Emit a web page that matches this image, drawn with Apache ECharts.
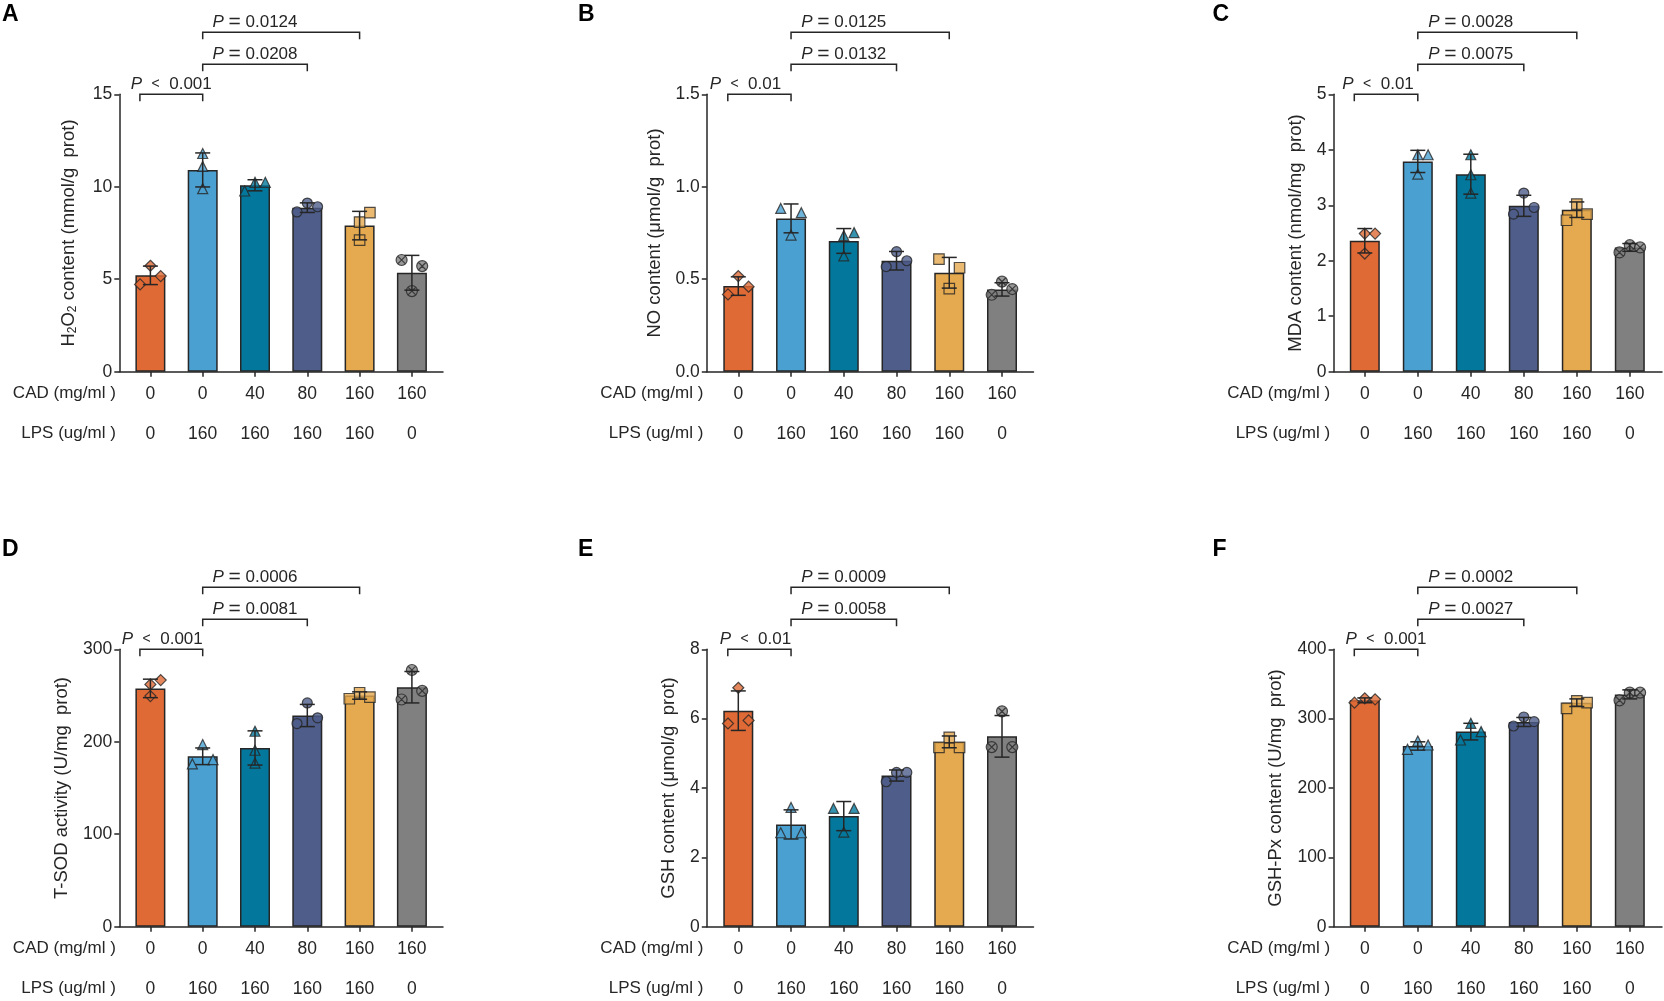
<!DOCTYPE html>
<html>
<head>
<meta charset="utf-8">
<title>Oxidative stress markers</title>
<script src="https://cdn.jsdelivr.net/npm/echarts@6/dist/echarts.min.js"></script>
<style>
  html, body { margin: 0; padding: 0; background: #fff; }
  #chart { width: 1664px; height: 1001px; }
</style>
</head>
<body>
<div id="chart"></div>
<script>
// group labels under each bar
const cadLabels = ['0', '0', '40', '80', '160', '160'];
const lpsLabels = ['0', '160', '160', '160', '160', '0'];
const comparisons = [[0, 1], [1, 3], [1, 4]];

// A - H2O2
const meansA = [5.21, 10.91, 10.08, 8.87, 7.90, 5.35];
const sdA = [0.50, 0.92, 0.30, 0.26, 0.77, 0.94];
const pointsA = [[4.72, 5.73, 5.17], [11.8, 11.1, 9.9], [9.77, 10.24, 10.24], [8.64, 9.12, 8.92], [8.09, 7.12, 8.6], [6.04, 4.36, 5.71]];
const pA = ['< 0.001', '= 0.0208', '= 0.0124'];

// B - NO
const meansB = [0.463, 0.829, 0.707, 0.600, 0.535, 0.445];
const sdB = [0.050, 0.078, 0.067, 0.050, 0.083, 0.036];
const pointsB = [[0.418, 0.517, 0.46], [0.883, 0.739, 0.86], [0.736, 0.626, 0.752], [0.568, 0.649, 0.60], [0.609, 0.449, 0.562], [0.416, 0.487, 0.447]];
const pB = ['< 0.01', '= 0.0132', '= 0.0125'];

// C - MDA
const meansC = [2.36, 3.79, 3.56, 2.99, 2.92, 2.24];
const sdC = [0.22, 0.20, 0.36, 0.19, 0.14, 0.07];
const pointsC = [[2.49, 2.49, 2.13], [3.91, 3.91, 3.56], [3.91, 3.55, 3.22], [3.22, 2.96, 2.84], [3.02, 2.73, 2.84], [2.15, 2.28, 2.24]];
const pC = ['< 0.01', '= 0.0075', '= 0.0028'];

// D - T-SOD
const meansD = [257.7, 184.3, 193.3, 228.4, 250.0, 259.0];
const sdD = [10, 9, 18.5, 12, 4, 17];
const pointsD = [[262, 266.7, 249.4], [197, 176, 180.7], [211.4, 190.8, 177], [242, 225.9, 219.7], [253, 246.5, 248.3], [277.6, 255, 245.7]];
const pD = ['< 0.001', '= 0.0081', '= 0.0006'];

// E - GSH
const meansE = [6.23, 2.95, 3.19, 4.36, 5.33, 5.49];
const sdE = [0.57, 0.42, 0.42, 0.16, 0.17, 0.60];
const pointsE = [[6.89, 5.95, 5.86], [3.44, 2.71, 2.71], [3.41, 3.41, 2.73], [4.45, 4.45, 4.18], [5.46, 5.17, 5.17], [6.21, 5.18, 5.18]];
const pE = ['< 0.01', '= 0.0058', '= 0.0009'];

// F - GSH-Px
const meansF = [326.4, 260.6, 281.3, 295.2, 323.0, 335.0];
const sdF = [3.5, 6, 12, 6.5, 5.5, 6.5];
const pointsF = [[323, 329.3, 327.9], [255.8, 267.8, 262], [293.3, 269.2, 281.3], [302.4, 289.4, 295.7], [325.5, 314.9, 323], [326.4, 337.5, 337.5]];
const pF = ['< 0.001', '= 0.0027', '= 0.0002'];

// horizontal placement of each dot inside its bar (-1 left, 0 centre, 1 right)
const jitterA = [[-1, 0, 1], [0, 0, 0], [-1, 0, 1], [-1, 0, 1], [0, 0, 1], [-1, 0, 1]];
const jitterB = [[-1, 0, 1], [-1, 0, 1], [0, 0, 1], [-1, 0, 1], [-1, 0, 1], [-1, 0, 1]];
const jitterC = [[0, 1, 0], [0, 1, 0], [0, 0, 0], [0, 1, -1], [0, -1, 1], [-1, 0, 1]];
const jitterD = [[0, 1, 0], [0, -1, 1], [0, 0, 0], [0, 1, -1], [0, -1, 1], [0, 1, -1]];
const jitterE = [[0, 1, -1], [0, -1, 1], [-1, 1, 0], [0, 1, -1], [0, -1, 1], [0, -1, 1]];
const jitterF = [[-1, 0, 1], [-1, 0, 1], [0, -1, 1], [0, -1, 1], [0, -1, 1], [-1, 0, 1]];

const groupColors = ['#E06A36', '#4AA0D1', '#04789C', '#4E5D89', '#E5A94F', '#808080'];
const crossCircle = 'path://M2,12A10,10 0 1,0 22,12A10,10 0 1,0 2,12Z M5,5L19,19M19,5L5,19';
const groupSymbols = ['diamond', 'triangle', 'triangle', 'circle', 'rect', crossCircle];
const groupSymbolSizes = [11, 10, 10, 10, 10.5, 11];

const ink = '#262626';
const textFont = 'Liberation Sans, Arial, sans-serif';

// layout (pixels)
const columns = [
    { axisX: 119.3, axisEnd: 443, firstX: 150.4, band: 52.3, letterX: 2 },
    { axisX: 706.8, axisEnd: 1033.5, firstX: 738.3, band: 52.74, letterX: 578 },
    { axisX: 1333.6, axisEnd: 1662, firstX: 1364.8, band: 53, letterX: 1212.5 }
];
const rowTop = [94.3, 649.3];
const letterTop = [3.5, 538.5];
const plotHeight = 277.4;
const bracketLift = [0, 30, 62];
const labelSpans = [[0, 1], [1, 3], [1, 3]];
const firstLabelShift = [0, -14, -8, -9, -4, 0];

const panels = [
    { letter: 'A', name: 'H{sub|2}O{sub|2} content (mmol/g  prot)', nameGap: 41, max: 15, interval: 5, digits: 0, means: meansA, sd: sdA, points: pointsA, jitter: jitterA, p: pA },
    { letter: 'B', name: 'NO content (μmol/g  prot)', nameGap: 42, max: 1.5, interval: 0.5, digits: 1, means: meansB, sd: sdB, points: pointsB, jitter: jitterB, p: pB },
    { letter: 'C', name: 'MDA content (nmol/mg  prot)', nameGap: 28.5, max: 5, interval: 1, digits: 0, means: meansC, sd: sdC, points: pointsC, jitter: jitterC, p: pC },
    { letter: 'D', name: 'T-SOD activity (U/mg  prot)', nameGap: 47.5, max: 300, interval: 100, digits: 0, means: meansD, sd: sdD, points: pointsD, jitter: jitterD, p: pD },
    { letter: 'E', name: 'GSH content (μmol/g  prot)', nameGap: 28, max: 8, interval: 2, digits: 0, means: meansE, sd: sdE, points: pointsE, jitter: jitterE, p: pE },
    { letter: 'F', name: 'GSH-Px content (U/mg  prot)', nameGap: 48, max: 400, interval: 100, digits: 0, means: meansF, sd: sdF, points: pointsF, jitter: jitterF, p: pF }
];

const lineStyle = { color: ink, width: 1.5 };

function renderErrorBar(params, api) {
    const i = api.value(0), m = api.value(1), s = api.value(2);
    const hi = api.coord([i, m + s]);
    const lo = api.coord([i, m - s]);
    const half = 7.5;
    const style = { stroke: ink, lineWidth: 1.5, fill: null };
    return {
        type: 'group',
        children: [
            { type: 'line', shape: { x1: hi[0], y1: hi[1], x2: lo[0], y2: lo[1] }, style: style },
            { type: 'line', shape: { x1: hi[0] - half, y1: hi[1], x2: hi[0] + half, y2: hi[1] }, style: style },
            { type: 'line', shape: { x1: lo[0] - half, y1: lo[1], x2: lo[0] + half, y2: lo[1] }, style: style }
        ]
    };
}

function makeBracketRenderer(labels, yMax, shift0) {
    return function (params, api) {
        const a = api.value(0), b = api.value(1), lvl = api.value(2);
        const pa = api.coord([a, yMax]);
        const pb = api.coord([b, yMax]);
        const y = pa[1] - bracketLift[lvl];
        const x1 = pa[0] + (a === 0 ? -10.5 : 0);
        const x2 = pb[0];
        const span = labelSpans[lvl];
        let tx;
        if (lvl === 0) {
            tx = (x1 + x2) / 2 + shift0;
        } else {
            tx = (api.coord([span[0], yMax])[0] + api.coord([span[1], yMax])[0]) / 2;
        }
        const style = { stroke: ink, lineWidth: 1.5, fill: null };
        const raw = labels[params.dataIndex];
        const op = raw.charAt(0);
        const val = raw.slice(2);
        const text = op === '<' ? '{i|P}  {s|<}  ' + val : '{i|P} {e|=} ' + val;
        return {
            type: 'group',
            children: [
                { type: 'polyline', shape: { points: [[x1, y + 7], [x1, y], [x2, y], [x2, y + 7]] }, style: style },
                {
                    type: 'text',
                    style: {
                        text: text, x: tx, y: y - 10,
                        align: 'center', verticalAlign: 'middle',
                        fontFamily: textFont, fontSize: 17, fill: ink,
                        rich: {
                            i: { fontFamily: textFont, fontSize: 17, fontStyle: 'italic', fill: ink },
                            s: { fontFamily: textFont, fontSize: 14, fill: ink },
                            e: { fontFamily: textFont, fontSize: 21, fill: ink }
                        }
                    }
                }
            ]
        };
    };
}

const grid = [], xAxis = [], yAxis = [], series = [], title = [];

panels.forEach(function (p, k) {
    const col = columns[k % 3];
    const row = Math.floor(k / 3);
    const top = rowTop[row];

    title.push({ text: p.letter, left: col.letterX, top: letterTop[row], padding: 0,
        textStyle: { fontFamily: textFont, fontWeight: 'bold', fontSize: 23, lineHeight: 23, color: '#000' } });
    title.push({ text: 'CAD (mg/ml )', right: 1664 - (col.axisX - 3.5), top: top + 289, padding: 0,
        textStyle: { fontFamily: textFont, fontWeight: 'normal', fontSize: 17, lineHeight: 20, color: ink } });
    title.push({ text: 'LPS (ug/ml )', right: 1664 - (col.axisX - 3.5), top: top + 329, padding: 0,
        textStyle: { fontFamily: textFont, fontWeight: 'normal', fontSize: 17, lineHeight: 20, color: ink } });

    // frame grid: carries the axis lines
    const outer = grid.length;
    grid.push({ left: col.axisX, top: top, width: col.axisEnd - col.axisX, height: plotHeight, containLabel: false, outerBoundsMode: 'none' });
    // plot grid: carries the bars
    const inner = grid.length;
    grid.push({ left: col.firstX - col.band / 2, top: top, width: col.band * 6, height: plotHeight, containLabel: false, outerBoundsMode: 'none' });

    xAxis.push({ gridIndex: outer, type: 'value', min: 0, max: 1, position: 'bottom',
        axisLine: { show: true, onZero: false, lineStyle: lineStyle },
        axisTick: { show: false }, axisLabel: { show: false }, splitLine: { show: false } });
    yAxis.push({ gridIndex: outer, type: 'value', min: 0, max: p.max, interval: p.interval, position: 'left',
        axisLine: { show: true, onZero: false, lineStyle: lineStyle },
        axisTick: { show: true, inside: false, length: 5, lineStyle: lineStyle },
        axisLabel: { margin: 7, fontFamily: textFont, fontSize: 17.5, color: ink,
            formatter: function (v) { return v.toFixed(p.digits); } },
        splitLine: { show: false },
        name: p.name, nameLocation: 'middle', nameGap: p.nameGap, nameRotate: 90, nameMoveOverlap: false,
        nameTextStyle: { fontFamily: textFont, fontSize: 18.5, color: ink,
            rich: { sub: { fontFamily: textFont, fontSize: 12, color: ink, verticalAlign: 'bottom' } } } });

    const xi = xAxis.length;
    xAxis.push({ gridIndex: inner, type: 'category', data: cadLabels, position: 'bottom',
        axisLine: { show: false, onZero: false },
        axisTick: { show: true, alignWithLabel: true, length: 5, lineStyle: lineStyle },
        axisLabel: { interval: 0, margin: 13, fontFamily: textFont, fontSize: 17.5, color: ink },
        splitLine: { show: false } });
    xAxis.push({ gridIndex: inner, type: 'category', data: lpsLabels, position: 'bottom', offset: 40,
        axisLine: { show: false, onZero: false }, axisTick: { show: false },
        axisLabel: { interval: 0, margin: 13, fontFamily: textFont, fontSize: 17.5, color: ink },
        splitLine: { show: false } });
    const yi = yAxis.length;
    yAxis.push({ gridIndex: inner, type: 'value', min: 0, max: p.max, show: false, splitLine: { show: false } });

    series.push({
        type: 'bar', xAxisIndex: xi, yAxisIndex: yi, barWidth: 30, z: 2,
        data: p.means.map(function (m, i) {
            return { value: m, itemStyle: { color: groupColors[i], borderColor: ink, borderWidth: 1.5 } };
        })
    });

    const dots = [];
    p.points.forEach(function (vals, i) {
        vals.forEach(function (v, j) {
            dots.push({
                value: [i, v],
                symbol: groupSymbols[i],
                symbolSize: groupSymbolSizes[i],
                symbolOffset: [p.jitter[i][j] * 10.3, 0],
                itemStyle: { color: groupColors[i], borderColor: ink, borderWidth: 1.2 }
            });
        });
    });
    series.push({ type: 'scatter', xAxisIndex: xi, yAxisIndex: yi, z: 3, data: dots });

    series.push({
        type: 'custom', xAxisIndex: xi, yAxisIndex: yi, z: 4, clip: false,
        renderItem: renderErrorBar, encode: { x: 0, y: 1 },
        data: p.means.map(function (m, i) { return [i, m, p.sd[i]]; })
    });

    series.push({
        type: 'custom', xAxisIndex: xi, yAxisIndex: yi, z: 4, clip: false,
        renderItem: makeBracketRenderer(p.p, p.max, firstLabelShift[k]), encode: { x: 0 },
        data: comparisons.map(function (c, n) { return [c[0], c[1], n]; })
    });
});

const chart = echarts.init(document.getElementById('chart'), null, { renderer: 'canvas' });
chart.setOption({
    animation: false,
    backgroundColor: '#fff',
    title: title,
    grid: grid,
    xAxis: xAxis,
    yAxis: yAxis,
    tooltip: { show: false },
    series: series
});
</script>
</body>
</html>
